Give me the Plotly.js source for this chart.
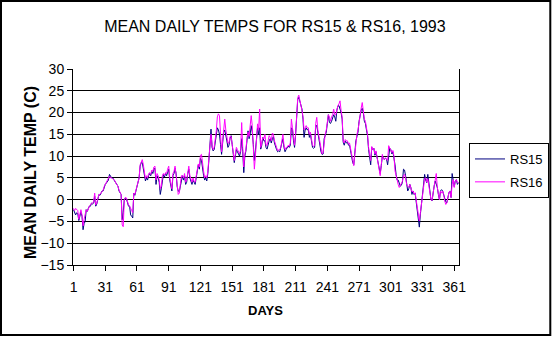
<!DOCTYPE html>
<html>
<head>
<meta charset="utf-8">
<script src="https://cdn.plot.ly/plotly-3.0.1.min.js"></script>
<style>html,body{margin:0;padding:0;background:#fff;}#chart{width:552px;height:338px;}</style>
</head>
<body>
<div id="chart"></div>
<script>
// Mean daily temperature (C), day 1..365 of 1993
const firstDay = 1;
const seriesNames = ["RS15", "RS16"];
const rs15 = [
-2.3,-3.0,-3.5,-3.0,-3.2,-4.8,-4.0,-2.8,-3.8,-6.9,
-5.5,-5.0,-2.3,-2.7,-2.0,-1.5,-1.5,-0.8,-1.0,-0.8,
0.8,-1.5,-1.0,0.0,1.2,1.0,1.5,2.0,2.0,3.0,
3.5,3.8,4.2,4.5,5.8,5.2,5.0,5.0,4.6,4.3,
3.8,3.5,3.1,2.0,1.5,1.2,-4.6,-3.0,0.0,0.4,
0.2,-0.8,-1.5,-1.5,-3.5,-3.8,-4.2,1.5,1.0,2.0,
3.0,3.8,5.0,7.7,8.5,8.5,7.0,5.8,4.3,5.0,
4.5,5.5,6.0,5.5,6.5,6.0,7.0,7.2,3.5,5.5,
5.0,4.0,1.2,2.5,5.0,5.8,5.2,6.0,5.5,6.5,
7.0,4.5,3.5,2.0,5.5,6.0,7.2,6.0,3.0,2.0,
1.8,3.0,5.0,5.5,4.5,5.5,3.5,4.0,6.0,7.0,
5.0,4.0,3.5,4.5,4.0,3.5,5.0,7.0,8.0,7.0,
9.5,9.0,7.0,5.5,4.5,5.0,4.3,6.0,9.0,12.5,
16.2,12.0,11.2,11.5,13.0,15.0,16.5,16.0,15.0,12.7,
10.4,13.0,15.5,16.0,15.0,13.5,12.0,12.5,14.0,14.7,
12.7,10.0,8.5,10.0,11.5,11.0,10.5,10.0,11.0,14.0,
11.0,6.2,10.0,11.2,13.5,15.8,14.0,15.0,17.0,15.5,
12.7,9.0,11.2,15.0,16.5,15.0,16.5,11.6,12.5,14.3,
13.5,
13.5,12.0,11.6,13.0,13.5,14.0,13.0,14.0,14.5,
13.0,12.0,11.5,11.0,11.2,11.0,12.0,13.0,14.0,12.0,
11.0,11.5,12.0,12.3,12.0,12.5,16.5,16.2,13.5,12.0,
15.0,19.5,23.0,23.5,22.5,21.5,20.8,18.5,14.3,16.0,
16.5,16.0,16.2,14.3,15.0,13.5,12.0,11.8,12.0,17.0,
17.0,15.5,14.0,12.0,11.0,10.4,10.5,14.0,14.7,15.5,
17.5,19.5,
17.7,17.5,18.0,19.0,19.5,19.0,18.0,20.5,
21.5,21.6,21.0,20.0,18.5,13.2,12.5,13.5,13.0,13.2,
12.5,12.5,11.2,9.5,8.5,8.0,11.0,13.5,14.5,15.5,
18.0,19.5,20.5,21.0,20.0,18.0,17.5,16.0,14.7,11.5,
9.5,8.0,12.0,11.5,11.8,10.2,11.0,9.5,8.7,6.5,
6.0,7.8,10.0,9.5,9.3,9.5,9.3,8.0,10.5,11.8,
11.5,10.5,11.0,9.8,
8.0,5.8,4.5,4.5,3.5,3.1,
3.3,4.0,7.0,6.8,5.5,3.5,2.0,2.5,3.5,2.8,
1.2,2.0,1.2,1.5,-0.3,-2.6,-4.1,-6.3,-3.3,-0.7,
1.2,3.5,5.8,4.5,3.9,5.8,3.5,2.0,0.0,-0.3,
2.0,3.1,4.3,3.5,2.8,1.2,0.0,2.0,2.3,2.0,
1.2,0.0,-0.5,-0.7,0.5,1.6,2.0,0.5,6.0,4.6,
3.0,4.3,4.6,3.5,3.9
];
const rs16 = [
-2.0,-2.5,-2.0,-2.3,-2.5,-4.5,-3.5,-2.3,-3.5,-6.0,
-4.5,-3.0,-2.3,-2.7,-1.8,-1.5,-1.2,-0.8,-0.8,-0.5,
1.5,-1.2,-0.8,0.0,1.2,1.2,1.5,2.0,2.2,3.0,
3.5,3.8,4.2,5.0,5.4,5.0,5.0,4.8,4.6,4.4,
3.8,3.4,3.1,2.2,1.5,1.2,-5.8,-6.2,0.0,0.5,
0.4,-0.6,-1.2,-1.5,-2.3,-2.5,-3.0,1.5,1.2,2.2,
3.2,4.0,5.0,8.0,8.5,9.2,8.0,6.0,4.8,5.5,
5.0,6.0,6.2,5.8,6.8,6.5,7.5,7.7,4.5,6.0,
5.5,4.5,2.5,3.0,5.5,6.0,5.5,6.2,6.0,7.0,
7.7,5.0,4.0,2.5,6.0,6.5,7.7,6.0,3.5,1.2,
1.5,3.5,5.5,5.5,5.0,6.0,4.0,4.5,6.5,7.7,
5.5,4.5,4.0,5.0,4.2,4.0,5.5,7.5,8.2,7.5,
10.2,10.4,8.0,6.5,5.0,5.5,5.0,6.5,9.5,12.7,
15.0,12.5,11.5,12.0,13.5,15.8,19.0,19.7,19.3,13.5,
11.0,13.5,16.0,18.5,16.0,14.0,13.0,13.0,14.5,14.5,
13.0,10.5,9.0,10.5,12.0,11.5,11.0,10.5,11.5,17.7,
12.0,7.5,10.5,11.5,14.0,15.5,14.5,17.0,19.3,17.0,
13.0,7.0,10.0,15.0,17.4,16.0,20.8,12.0,13.0,14.3,
14.0,
15.0,12.5,12.5,13.5,14.7,14.3,13.5,15.3,15.0,
13.5,12.5,12.0,11.3,11.5,11.5,12.0,13.5,15.0,12.5,
11.5,12.0,12.0,12.5,12.3,13.0,18.5,16.5,14.0,12.5,
15.0,20.0,23.4,24.0,23.0,22.0,20.5,19.0,16.0,16.5,
17.0,16.5,16.5,15.0,15.5,14.0,12.5,12.2,12.5,17.5,
18.9,16.0,14.5,12.5,11.0,10.5,10.8,14.0,15.0,16.0,
18.0,19.5,
19.0,18.0,19.0,19.5,20.8,19.5,19.5,21.0,
21.6,22.0,22.7,20.5,19.0,13.5,13.0,13.8,13.5,13.5,
12.8,13.0,11.5,10.0,9.0,7.8,10.5,13.5,15.0,16.0,
18.0,19.6,21.0,22.3,20.5,18.5,18.0,16.5,15.0,12.0,
10.0,9.0,12.2,11.5,11.8,10.5,11.2,9.5,8.5,6.0,
5.5,8.0,10.4,9.3,9.3,9.6,9.2,9.0,12.4,11.8,
11.2,10.8,11.3,10.0,
6.6,5.5,3.9,3.5,2.8,3.3,
3.5,4.2,5.5,5.8,5.0,3.5,3.1,2.8,3.5,2.8,
1.8,2.0,1.3,1.6,0.0,-2.5,-3.5,-4.9,-3.0,-0.7,
1.3,3.5,4.8,5.0,4.0,4.8,3.5,2.0,0.0,-0.2,
2.0,3.1,4.5,6.0,2.8,1.2,0.0,2.0,1.5,2.0,
1.2,-0.3,-1.1,-0.7,0.5,1.6,2.0,0.5,3.5,4.6,
2.8,4.3,4.6,3.9,3.9
];
const titleText = "MEAN DAILY TEMPS FOR RS15 & RS16, 1993";
const xTitle = "DAYS";
const yTitle = "MEAN DAILY TEMP (C)";

const FONT = "Liberation Sans, Arial, sans-serif";
const traces = [
  {type: "scatter", mode: "lines", name: seriesNames[0], x0: firstDay, dx: 1, y: rs15,
   line: {color: "#000080", width: 1}, legendgroup: "a"},
  {type: "scatter", mode: "lines", name: seriesNames[1], x0: firstDay, dx: 1, y: rs16,
   line: {color: "#FF00FF", width: 1}, legendgroup: "b"}
];
const layout = {
  width: 552, height: 338,
  margin: {l: 73, r: 93, t: 69, b: 73, pad: 0, autoexpand: false},
  paper_bgcolor: "#ffffff", plot_bgcolor: "#ffffff",
  font: {family: FONT, color: "#000000"},
  showlegend: true,
  title: {text: titleText, font: {family: FONT, size: 16, color: "#000"},
          x: 0.498, xref: "container", xanchor: "center",
          y: 1 - 26.5 / 338, yref: "container", yanchor: "middle"},
  xaxis: {range: [0.5, 365.5], tick0: 1, dtick: 30, showgrid: false, zeroline: false,
          showline: true, linecolor: "#000", linewidth: 1, ticks: "outside", ticklen: 5,
          tickcolor: "#000", tickfont: {family: FONT, size: 14, color: "#000"},
          ticklabelstandoff: 4, fixedrange: true},
  yaxis: {range: [-15, 30], tick0: -15, dtick: 5, showgrid: true, gridcolor: "#000", gridwidth: 1,
          zeroline: false, showline: true, mirror: true, linecolor: "#000", linewidth: 1,
          ticks: "outside", ticklen: 5, tickcolor: "#000",
          tickfont: {family: FONT, size: 14, color: "#000"}, fixedrange: true},
  legend: {x: (469 - 73) / 386, xanchor: "left", y: (265 - 143) / 196, yanchor: "top",
           bordercolor: "#000", borderwidth: 1, bgcolor: "#fff",
           font: {family: FONT, size: 13, color: "#000"}, tracegroupgap: 3},
  annotations: [
    {text: "<b>" + yTitle + "</b>", xref: "paper", yref: "paper",
     x: (30 - 73) / 386, y: (265 - 173) / 196, xanchor: "center", yanchor: "middle",
     textangle: -90, showarrow: false, font: {family: FONT, size: 16, color: "#000"}},
    {text: "<b>" + xTitle + "</b>", xref: "paper", yref: "paper",
     x: (265.5 - 73) / 386, y: (265 - 310) / 196, xanchor: "center", yanchor: "middle",
     showarrow: false, font: {family: FONT, size: 13, color: "#000"}}
  ],
  shapes: [
    {type: "rect", xref: "paper", yref: "paper",
     x0: (1 - 73) / 386, x1: (550.3 - 73) / 386, y0: (265 - 335) / 196, y1: (265 - 1) / 196,
     line: {color: "#000", width: 2}, fillcolor: "rgba(0,0,0,0)"}
  ]
};
Plotly.newPlot("chart", traces, layout, {staticPlot: true, displayModeBar: false});
</script>
</body>
</html>
